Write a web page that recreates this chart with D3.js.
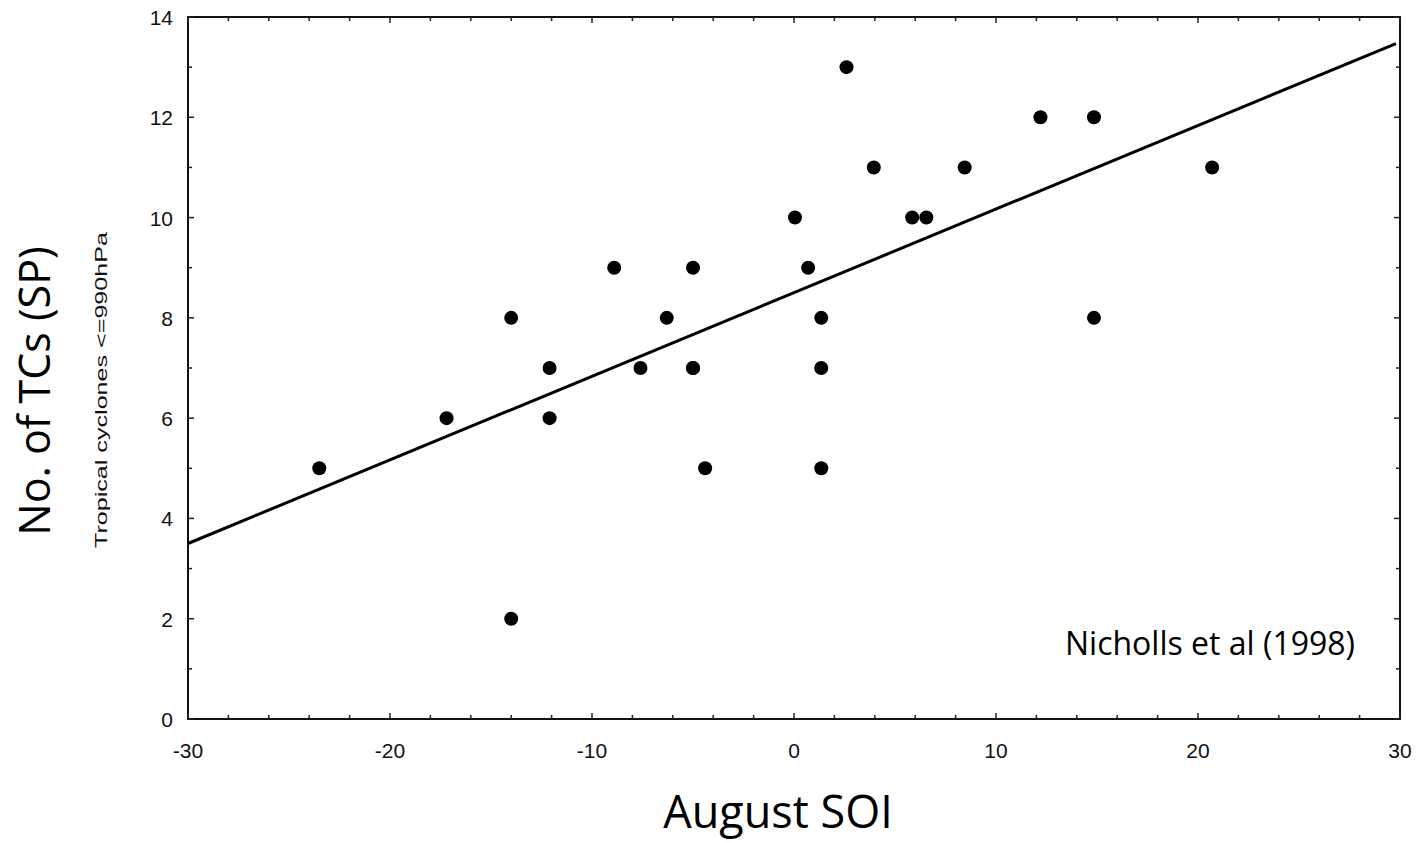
<!DOCTYPE html>
<html><head><meta charset="utf-8">
<script src="https://cdn.jsdelivr.net/npm/d3@7"></script>
<style>body{margin:0;background:#fff}svg{display:block}</style>
</head><body>
<svg id="c" width="1420" height="843"></svg>
<script>
const soi = [-23.5,-17.2,-14.0,-14.0,-12.1,-12.1,-8.9,-7.6,-6.3,-5.0,-5.0,-5.0,-4.4,0.05,0.7,1.35,1.35,1.35,2.6,3.95,5.85,6.55,8.45,12.2,14.85,14.85,20.7];
const tcs = [5,6,8,2,7,6,9,7,8,9,7,7,5,10,9,8,7,5,13,11,10,10,11,12,12,8,11];
const fitX = [-30, 29.8];
const fitY = [3.5, 13.47];
const xTicks = [-30,-20,-10,0,10,20,30];
const yTicks = [0,2,4,6,8,10,12,14];

const svg = d3.select('#c');
const L=188, R=1400, T=17, B=719;
const x = d3.scaleLinear().domain([-30,30]).range([L,R]);
const y = d3.scaleLinear().domain([0,14]).range([B,T]);
const tickFont = '"Liberation Sans", Arial, sans-serif';

// frame
svg.append('rect').attr('x',L).attr('y',T).attr('width',R-L).attr('height',B-T)
  .attr('fill','none').attr('stroke','#111').attr('stroke-width',2);

// ticks (inward, all four sides)
const xMinor = d3.range(-30,31,2), yMinor = d3.range(0,15,1);
const tg = svg.append('g').attr('stroke','#222').attr('stroke-width',1.5);
xMinor.forEach(v=>{
  const len = v%10===0?6:4;
  tg.append('line').attr('x1',x(v)).attr('x2',x(v)).attr('y1',B).attr('y2',B-len);
  tg.append('line').attr('x1',x(v)).attr('x2',x(v)).attr('y1',T).attr('y2',T+len);
});
yMinor.forEach(v=>{
  const len = v%2===0?6:4;
  tg.append('line').attr('y1',y(v)).attr('y2',y(v)).attr('x1',L).attr('x2',L+len);
  tg.append('line').attr('y1',y(v)).attr('y2',y(v)).attr('x1',R).attr('x2',R-len);
});

// tick labels
svg.append('g').selectAll('text').data(xTicks).join('text')
  .attr('x',d=>x(d)).attr('y',758).attr('text-anchor','middle')
  .attr('font-family',tickFont).attr('font-size',21).attr('fill','#111')
  .text(d=>d);
svg.append('g').selectAll('text').data(yTicks).join('text')
  .attr('x',173).attr('y',d=>y(d)+8).attr('text-anchor','end')
  .attr('font-family',tickFont).attr('font-size',21).attr('fill','#111')
  .text(d=>d);

// inner y label
svg.append('text').attr('transform','translate(107,390) rotate(-90)')
  .attr('text-anchor','middle').attr('font-family',tickFont).attr('font-size',17).attr('fill','#111')
  .attr('textLength',316).attr('lengthAdjust','spacingAndGlyphs')
  .text('Tropical cyclones <=990hPa');

// regression line
svg.append('path').datum(d3.zip(fitX,fitY))
  .attr('d',d3.line().x(d=>x(d[0])).y(d=>y(d[1])))
  .attr('stroke','#000').attr('stroke-width',3).attr('fill','none');

// points
svg.append('g').selectAll('circle').data(d3.zip(soi,tcs)).join('circle')
  .attr('cx',d=>x(d[0])).attr('cy',d=>y(d[1])).attr('r',7).attr('fill','#000');

// outer labels
const big = '"Open Sans", "Noto Sans", sans-serif';
svg.append('text').attr('transform','translate(50,391) rotate(-90)')
  .attr('text-anchor','middle').attr('font-family',big).attr('font-size',43).attr('fill','#000')
  .text('No. of TCs (SP)');
svg.append('text').attr('x',778).attr('y',828).attr('text-anchor','middle')
  .attr('font-family',big).attr('font-size',45).attr('fill','#000').text('August SOI');
svg.append('text').attr('x',1210).attr('y',655).attr('text-anchor','middle')
  .attr('font-family',big).attr('font-size',32).attr('fill','#000').text('Nicholls et al (1998)');
</script>
</body></html>
